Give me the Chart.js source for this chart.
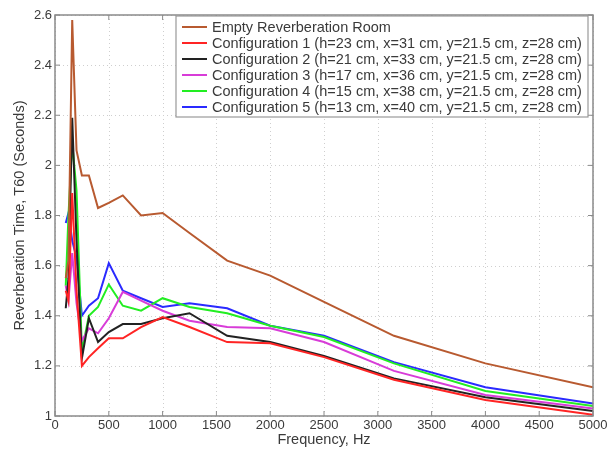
<!DOCTYPE html>
<html>
<head>
<meta charset="utf-8">
<script src="https://cdn.jsdelivr.net/npm/chart.js@4.4.1/dist/chart.umd.min.js"></script>
<style>
  html, body { margin: 0; padding: 0; background: #fff; }
  #wrap { width: 615px; height: 450px; position: relative; }
</style>
</head>
<body>
<div id="wrap"><canvas id="c" width="615" height="450"></canvas></div>
<script>
// ---- data ----
const frequencies = [100, 125, 160, 200, 250, 315, 400, 500, 630, 800, 1000, 1250, 1600, 2000, 2500, 3150, 4000, 5000];
const emptyRoom = [1.55, 1.62, 2.58, 2.06, 1.96, 1.96, 1.83, 1.85, 1.88, 1.80, 1.81, 1.73, 1.62, 1.56, 1.455, 1.32, 1.21, 1.115];
const config1 = [1.50, 1.46, 1.89, 1.50, 1.20, 1.235, 1.27, 1.31, 1.31, 1.355, 1.395, 1.355, 1.295, 1.29, 1.235, 1.145, 1.064, 1.005];
const config2 = [1.43, 1.55, 2.19, 1.70, 1.23, 1.39, 1.295, 1.335, 1.367, 1.367, 1.39, 1.41, 1.32, 1.295, 1.24, 1.15, 1.075, 1.02];
const config3 = [1.52, 1.46, 1.65, 1.45, 1.30, 1.35, 1.33, 1.39, 1.495, 1.46, 1.42, 1.38, 1.355, 1.35, 1.295, 1.18, 1.084, 1.03];
const config4 = [1.52, 1.80, 2.09, 1.90, 1.26, 1.40, 1.435, 1.525, 1.44, 1.42, 1.47, 1.435, 1.41, 1.36, 1.315, 1.21, 1.10, 1.04];
const config5 = [1.77, 1.81, 1.70, 1.63, 1.40, 1.44, 1.47, 1.61, 1.50, 1.47, 1.435, 1.45, 1.43, 1.36, 1.32, 1.215, 1.115, 1.05];
const seriesLabels = [
  'Empty Reverberation Room',
  'Configuration 1 (h=23 cm, x=31 cm, y=21.5 cm, z=28 cm)',
  'Configuration 2 (h=21 cm, x=33 cm, y=21.5 cm, z=28 cm)',
  'Configuration 3 (h=17 cm, x=36 cm, y=21.5 cm, z=28 cm)',
  'Configuration 4 (h=15 cm, x=38 cm, y=21.5 cm, z=28 cm)',
  'Configuration 5 (h=13 cm, x=40 cm, y=21.5 cm, z=28 cm)'
];
const xTitle = 'Frequency, Hz';
const yTitle = 'Reverberation Time, T60 (Seconds)';

const seriesValues = [emptyRoom, config1, config2, config3, config4, config5];
const seriesColors = ['#b85a30', '#ff2424', '#222222', '#d83cd8', '#22ee22', '#2a2aff'];

const toPoints = vals => vals.map((v, i) => ({ x: frequencies[i], y: v }));

const FONT = '"Liberation Sans", Arial, sans-serif';

// dotted grid behind the data
const gridPlugin = {
  id: 'dottedGrid',
  beforeDatasetsDraw(chart) {
    const { ctx, chartArea: a, scales } = chart;
    ctx.save();
    ctx.strokeStyle = '#cfcfcf';
    ctx.lineWidth = 1;
    ctx.setLineDash([1, 3]);
    scales.x.ticks.forEach(t => {
      const px = Math.round(scales.x.getPixelForValue(t.value)) + 0.5;
      ctx.beginPath(); ctx.moveTo(px, a.top); ctx.lineTo(px, a.bottom); ctx.stroke();
    });
    scales.y.ticks.forEach(t => {
      const py = Math.round(scales.y.getPixelForValue(t.value)) + 0.5;
      ctx.beginPath(); ctx.moveTo(a.left, py); ctx.lineTo(a.right, py); ctx.stroke();
    });
    ctx.restore();
  }
};

// frame + inward ticks + boxed legend (MATLAB style)
const matlabPlugin = {
  id: 'matlab',
  afterDraw(chart) {
    const { ctx, chartArea: a, scales } = chart;
    ctx.save();
    ctx.strokeStyle = '#8a8a8a';
    ctx.lineWidth = 1.5;
    ctx.strokeRect(a.left, a.top, a.right - a.left, a.bottom - a.top);
    ctx.lineWidth = 1;
    const tl = 5;
    scales.x.ticks.forEach(t => {
      const px = scales.x.getPixelForValue(t.value);
      ctx.beginPath();
      ctx.moveTo(px, a.bottom); ctx.lineTo(px, a.bottom - tl);
      ctx.moveTo(px, a.top); ctx.lineTo(px, a.top + tl);
      ctx.stroke();
    });
    scales.y.ticks.forEach(t => {
      const py = scales.y.getPixelForValue(t.value);
      ctx.beginPath();
      ctx.moveTo(a.left, py); ctx.lineTo(a.left + tl, py);
      ctx.moveTo(a.right, py); ctx.lineTo(a.right - tl, py);
      ctx.stroke();
    });
    // legend box
    const lx = 176, ly = 16, lw = 412, lh = 101, rowH = 16;
    ctx.fillStyle = '#ffffff';
    ctx.fillRect(lx, ly, lw, lh);
    ctx.strokeStyle = '#999999';
    ctx.lineWidth = 1.2;
    ctx.strokeRect(lx, ly, lw, lh);
    ctx.font = '14.5px ' + FONT;
    ctx.textBaseline = 'middle';
    ctx.textAlign = 'left';
    chart.data.datasets.forEach((ds, i) => {
      const cy = ly + 11 + i * rowH;
      ctx.strokeStyle = ds.borderColor;
      ctx.lineWidth = 2;
      ctx.beginPath();
      ctx.moveTo(lx + 6, cy); ctx.lineTo(lx + 31, cy);
      ctx.stroke();
      ctx.fillStyle = '#3a3a3a';
      ctx.fillText(ds.label, lx + 36, cy + 0.5);
    });
    ctx.restore();
  }
};

new Chart(document.getElementById('c'), {
  type: 'line',
  data: {
    datasets: seriesValues.map((vals, i) => ({
      label: seriesLabels[i],
      data: toPoints(vals),
      borderColor: seriesColors[i],
      backgroundColor: seriesColors[i],
      borderWidth: 2,
      pointRadius: 0,
      tension: 0,
      fill: false
    }))
  },
  options: {
    responsive: false,
    animation: false,
    layout: { padding: { top: 15, right: 22, left: 0, bottom: 0 } },
    plugins: { legend: { display: false }, tooltip: { enabled: false } },
    scales: {
      x: {
        type: 'linear', min: 0, max: 5000,
        ticks: { stepSize: 500, color: '#3a3a3a', font: { family: FONT, size: 13 }, padding: 2, maxRotation: 0,
          callback: v => String(v) },
        grid: { display: false, drawTicks: false },
        border: { display: false },
        title: { display: true, text: xTitle, color: '#3a3a3a', font: { family: FONT, size: 14.5 }, padding: { top: 0, bottom: 1 } },
        afterFit(s) { s.height = 34; }
      },
      y: {
        min: 1, max: 2.6,
        ticks: { stepSize: 0.2, color: '#3a3a3a', font: { family: FONT, size: 13 }, padding: 3,
          callback: v => String(Math.round(v * 10) / 10) },
        grid: { display: false, drawTicks: false },
        border: { display: false },
        title: { display: true, text: yTitle, color: '#3a3a3a', font: { family: FONT, size: 14.5 }, padding: { top: 11, bottom: 5 } },
        afterFit(s) { s.width = 55; }
      }
    }
  },
  plugins: [gridPlugin, matlabPlugin]
});
</script>
</body>
</html>
